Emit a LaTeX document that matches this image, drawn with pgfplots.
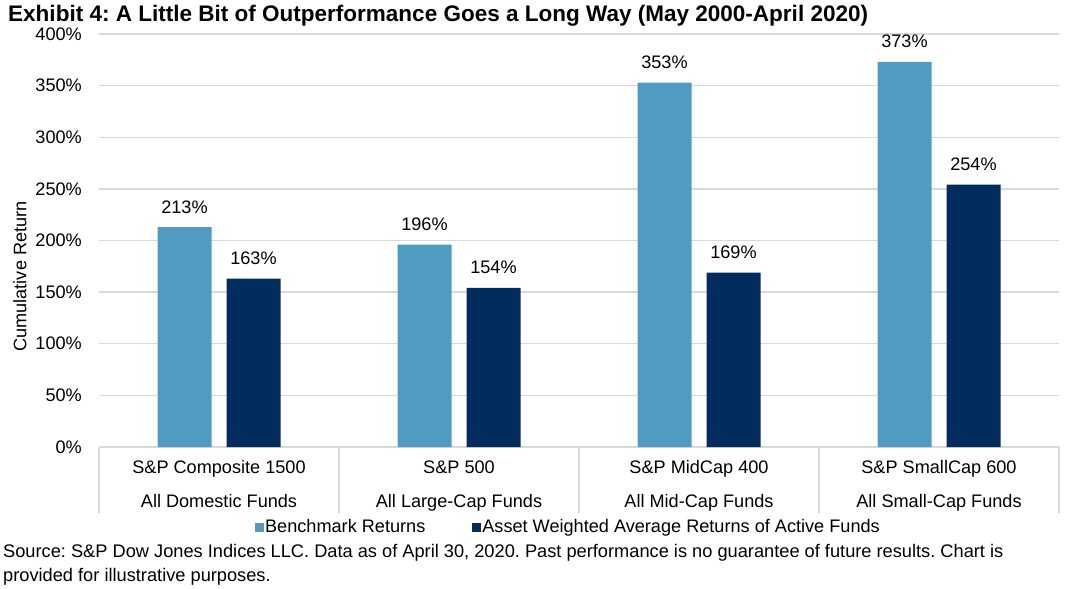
\documentclass[border=0pt]{standalone}
\usepackage{pgfplots}
\pgfplotsset{compat=1.18}
\usepackage{fontspec}
\setmainfont{Liberation Sans}
\frenchspacing
\definecolor{lightb}{HTML}{4F9BC2}
\definecolor{darkb}{HTML}{002C5E}
\definecolor{gridg}{HTML}{D9D9D9}
\begin{document}
\begin{tikzpicture}
\path[use as bounding box] (0,0) rectangle (1067bp,589bp);
\node[anchor=base west,inner sep=0,font=\bfseries\fontsize{22.6}{26}\selectfont] at (8bp,567.5bp) {Exhibit 4: A Little Bit of Outperformance Goes a Long Way (May 2000-April 2020)};
\node[anchor=base west,inner sep=0,font=\fontsize{18.3}{20}\selectfont] at (3bp,31.6bp) {Source: S\&P Dow Jones Indices LLC. Data as of April 30, 2020. Past performance is no guarantee of future results. Chart is};
\node[anchor=base west,inner sep=0,font=\fontsize{18.3}{20}\selectfont] at (3bp,7.6bp) {provided for illustrative purposes.};
\begin{axis}[
  at={(99bp,142bp)}, anchor=south west,
  scale only axis, width=960bp, height=413bp,
  xmin=-0.5, xmax=3.5, ymin=0, ymax=400,
  axis lines=left, axis line style={-},
  x axis line style={draw=gridg, line width=1.3bp},
  y axis line style={draw=none},
  ytick={0,50,...,400},
  ymajorgrids, grid style={draw=gridg, line width=1.3bp},
  major tick length=0pt,
  yticklabel={\pgfmathprintnumber[assume math mode=true]{\tick}\%},
  yticklabel style={anchor=east, inner sep=0pt, xshift=-17bp, font=\fontsize{18.2}{20}\selectfont},
  xtick={0,1,2,3},
  xticklabels={{S\&P Composite 1500\\All Domestic Funds},{S\&P 500\\All Large-Cap Funds},{S\&P MidCap 400\\All Mid-Cap Funds},{S\&P SmallCap 600\\All Small-Cap Funds}},
  xticklabel style={align=center, anchor=north, inner sep=0pt, yshift=-13.5bp, font=\fontsize{18.2}{34}\selectfont},
  extra x ticks={-0.5,0.5,1.5,2.5,3.5},
  extra x tick labels={},
  extra x tick style={major tick length=66bp, tick align=outside, tick style={draw=gridg, line width=1.3bp}, grid=none},
  ylabel={Cumulative Return},
  every axis y label/.style={at={(rel axis cs:0,0.5)}, rotate=90, anchor=center, xshift=-36bp, yshift=79bp, font=\fontsize{18.2}{20}\selectfont},
  ybar=15bp, bar width=54bp,
  nodes near coords={\pgfmathprintnumber[assume math mode=true]{\pgfplotspointmeta}\%},
  every node near coord/.append style={font=\fontsize{18.2}{20}\selectfont, anchor=base, inner sep=0pt, yshift=14bp, text=black},
  clip=false,
  legend columns=2,
  legend style={draw=none, fill=none, at={(0.4885,-0.194)}, anchor=center, font=\fontsize{18.2}{20}\selectfont, nodes={inner sep=1.5bp}, /tikz/every even column/.append style={column sep=45bp}},
  legend image code/.code={\fill[#1] (0bp,-4.5bp) rectangle (9bp,4.5bp);},
]
\addplot[fill=lightb, draw=none] coordinates {(0,213) (1,196) (2,353) (3,373)};
\addplot[fill=darkb, draw=none] coordinates {(0,163) (1,154) (2,169) (3,254)};
\legend{Benchmark Returns, Asset Weighted Average Returns of Active Funds}
\end{axis}
\end{tikzpicture}
\end{document}
